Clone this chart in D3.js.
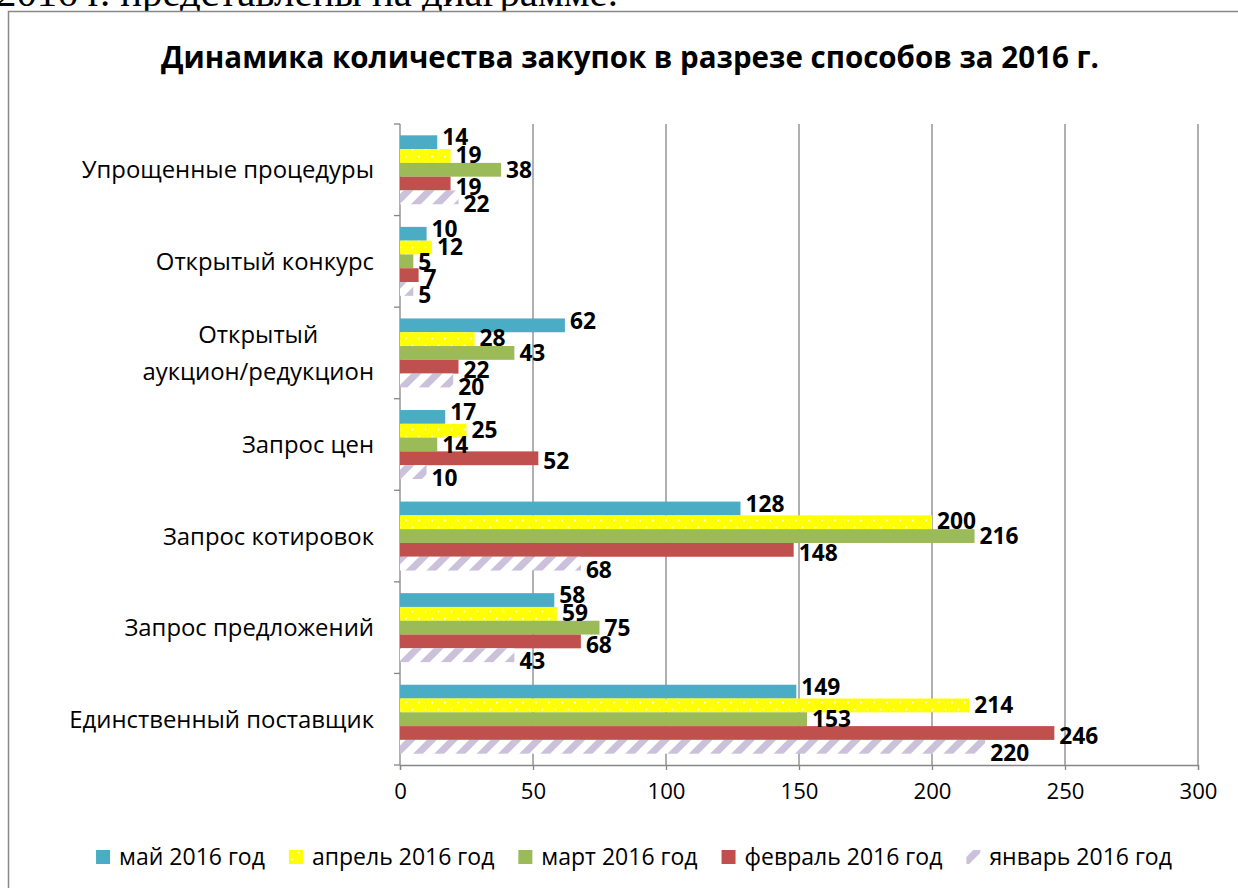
<!DOCTYPE html>
<html>
<head>
<meta charset="utf-8">
<script src="https://cdn.jsdelivr.net/npm/d3@7"></script>
<style>
  html, body { margin: 0; padding: 0; background: #fff; }
  svg { display: block; }
</style>
</head>
<body>
<svg id="chart" width="1238" height="888"></svg>
<script>
// Categories top to bottom, as in the picture
const categories = [
    "Упрощенные процедуры",
    "Открытый конкурс",
    "Открытый\nаукцион/редукцион",
    "Запрос цен",
    "Запрос котировок",
    "Запрос предложений",
    "Единственный поставщик"
];

const seriesNames = ["май 2016 год", "апрель 2016 год", "март 2016 год", "февраль 2016 год", "январь 2016 год"];

// One array per month, aligned with categories
const mayValues      = [14, 10, 62, 17, 128, 58, 149];
const aprilValues    = [19, 12, 28, 25, 200, 59, 214];
const marchValues    = [38,  5, 43, 14, 216, 75, 153];
const februaryValues = [19,  7, 22, 52, 148, 68, 246];
const januaryValues  = [22,  5, 20, 10,  68, 43, 220];

const seriesValues = [mayValues, aprilValues, marchValues, februaryValues, januaryValues];
const xTicks = [0, 50, 100, 150, 200, 250, 300];

const fills = ["#4BACC6", "url(#dots)", "#9BBB59", "#C0504D", "url(#hatch)"];
// labels of the outer series are pushed apart a little, as in the source
const labelShift = [-5, -1, 0, 3, 6];
const FONT = '"Open Sans", Calibri, sans-serif';

const svg = d3.select("#chart");
const margin = { top: 124, left: 400 };
const plotRight = 1198;
const plotBottom = 765;

// Scale a text's font size so a sample string takes the wanted width.
function fitSize(sample, family, weight, targetWidth) {
    const probe = svg.append("text")
        .attr("font-family", family).attr("font-weight", weight)
        .attr("font-size", 100).text(sample);
    const w = probe.node().getComputedTextLength();
    probe.remove();
    return 100 * targetWidth / w;
}

const titleSize = fitSize("Динамика количества закупок в разрезе способов за 2016 г.", FONT, "bold", 938);
const catSize = fitSize("Единственный поставщик", FONT, "normal", 305);
const tickSize = fitSize("100", FONT, "normal", 38);
const valueSize = fitSize("128", FONT, "bold", 39);
const legendSize = fitSize("май 2016 год", FONT, "normal", 146);
const pageSize = fitSize("2016 г. представлены на диаграмме.", '"Liberation Serif", serif', "normal", 622);

// Patterns: yellow with white dots, white with lilac diagonal stripes
const defs = svg.append("defs");
const dots = defs.append("pattern")
    .attr("id", "dots")
    .attr("patternUnits", "userSpaceOnUse")
    .attr("width", 13).attr("height", 14);
dots.append("rect").attr("width", 13).attr("height", 14).attr("fill", "#FFFF00");
dots.append("circle").attr("cx", 3).attr("cy", 2.5).attr("r", 1).attr("fill", "#fff");
dots.append("circle").attr("cx", 9.5).attr("cy", 9.5).attr("r", 1).attr("fill", "#fff");

const hatch = defs.append("pattern")
    .attr("id", "hatch")
    .attr("patternUnits", "userSpaceOnUse")
    .attr("width", 15).attr("height", 15)
    .attr("patternTransform", "rotate(45)");
hatch.append("rect").attr("width", 15).attr("height", 15).attr("fill", "#fff");
hatch.append("rect").attr("width", 7).attr("height", 15).attr("fill", "#CCC1DA");

// Page text above the chart frame (cut off at the top)
svg.append("text")
    .attr("x", -4).attr("y", 6)
    .attr("font-family", '"Liberation Serif", serif')
    .attr("font-size", pageSize)
    .text("2016 г. представлены на диаграмме.");

// Chart frame
svg.append("rect")
    .attr("x", 8.5).attr("y", 11.5)
    .attr("width", 1260).attr("height", 900)
    .attr("fill", "#fff")
    .attr("stroke", "#888").attr("stroke-width", 1.5);

// Title
svg.append("text")
    .attr("x", 630).attr("y", 68)
    .attr("text-anchor", "middle")
    .attr("font-family", FONT)
    .attr("font-weight", "bold")
    .attr("font-size", titleSize)
    .text("Динамика количества закупок в разрезе способов за 2016 г.");

const x = d3.scaleLinear().domain([0, 300]).range([margin.left, plotRight]);
const y = d3.scaleBand().domain(categories).range([margin.top, plotBottom]);
const ySub = d3.scaleBand().domain(seriesNames)
    .range([0, y.bandwidth()])
    .paddingInner(0).paddingOuter(0.82);

// Vertical gridlines
svg.append("g")
    .selectAll("line")
    .data(xTicks.slice(1))
    .join("line")
    .attr("x1", d => x(d)).attr("x2", d => x(d))
    .attr("y1", margin.top).attr("y2", plotBottom)
    .attr("stroke", "#868686").attr("stroke-width", 1.3);

// X axis
svg.append("g")
    .attr("transform", `translate(0,${plotBottom})`)
    .call(d3.axisBottom(x).tickValues(xTicks).tickSize(5).tickPadding(13))
    .call(g => g.select(".domain").attr("stroke", "#868686").attr("stroke-width", 1.3))
    .call(g => g.selectAll(".tick line").attr("stroke", "#868686").attr("stroke-width", 1.3))
    .call(g => g.selectAll(".tick text")
        .attr("font-family", FONT).attr("font-size", tickSize).attr("fill", "#000"));

// Y axis: line with ticks at category boundaries
const yAxis = svg.append("g");
yAxis.append("line")
    .attr("x1", x(0)).attr("x2", x(0))
    .attr("y1", margin.top).attr("y2", plotBottom)
    .attr("stroke", "#868686").attr("stroke-width", 1.3);
yAxis.selectAll("line.tk")
    .data(categories.map(c => y(c)).concat([plotBottom]))
    .join("line")
    .attr("class", "tk")
    .attr("x1", x(0) - 6).attr("x2", x(0))
    .attr("y1", d => d).attr("y2", d => d)
    .attr("stroke", "#868686").attr("stroke-width", 1.3);

// Category labels (multi-line ones centred as a block, right edge at 374)
categories.forEach(cat => {
    const lines = cat.split("\n");
    const cy = y(cat) + y.bandwidth() / 2;
    const t = svg.append("text")
        .attr("font-family", FONT).attr("font-size", catSize).attr("fill", "#000");
    lines.forEach((ln, i) => {
        t.append("tspan").text(ln)
            .attr("y", cy + catSize * 0.36 + (i - (lines.length - 1) / 2) * 37);
    });
    const maxW = d3.max(t.selectAll("tspan").nodes(), n => n.getComputedTextLength());
    t.attr("text-anchor", "middle")
        .selectAll("tspan").attr("x", 374 - maxW / 2);
});

// Bars
seriesNames.forEach((name, si) => {
    const vals = seriesValues[si];
    svg.append("g")
        .selectAll("rect")
        .data(categories.map((c, ci) => ({ c, v: vals[ci] })))
        .join("rect")
        .attr("x", x(0))
        .attr("y", d => y(d.c) + ySub(name))
        .attr("width", d => x(d.v) - x(0))
        .attr("height", ySub.bandwidth())
        .attr("fill", fills[si]);
});

// Data labels
seriesNames.forEach((name, si) => {
    const vals = seriesValues[si];
    svg.append("g")
        .selectAll("text")
        .data(categories.map((c, ci) => ({ c, v: vals[ci] })))
        .join("text")
        .attr("x", d => x(d.v) + 5)
        .attr("y", d => y(d.c) + ySub(name) + ySub.bandwidth() / 2 + valueSize * 0.36 + labelShift[si])
        .attr("font-family", FONT).attr("font-weight", "bold").attr("font-size", valueSize)
        .attr("fill", "#000")
        .text(d => d.v);
});

// Legend
const legend = svg.append("g");
let lx = 0;
seriesNames.forEach((name, si) => {
    const g = legend.append("g").attr("transform", `translate(${lx},0)`);
    g.append("rect").attr("x", 0).attr("y", -7).attr("width", 14).attr("height", 14)
        .attr("fill", fills[si]);
    const t = g.append("text").attr("x", 23).attr("y", legendSize * 0.36)
        .attr("font-family", FONT).attr("font-size", legendSize).attr("fill", "#000")
        .text(name);
    lx += 23 + t.node().getComputedTextLength() + 24;
});
const totalW = lx - 24;
legend.attr("transform", `translate(${634 - totalW / 2},857)`);
</script>
</body>
</html>
